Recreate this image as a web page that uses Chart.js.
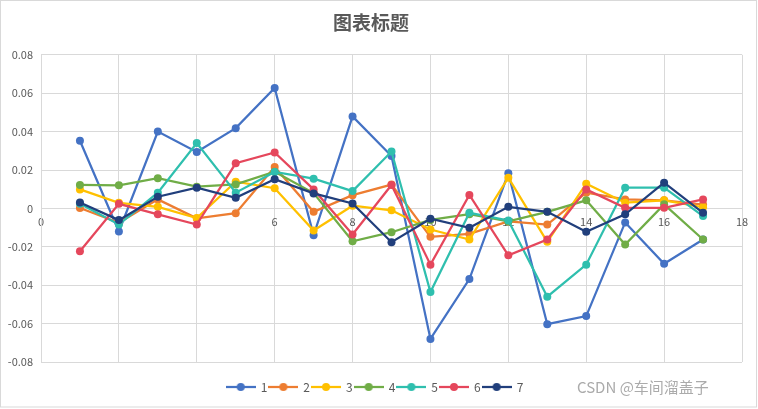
<!DOCTYPE html>
<html>
<head>
<meta charset="utf-8">
<script src="https://cdn.jsdelivr.net/npm/chart.js@4/dist/chart.umd.min.js"></script>
<style>
  html, body { margin: 0; padding: 0; background: #fff; }
  #wrap { position: relative; width: 758px; height: 409px; }
  #wm { position: absolute; left: 577px; top: 376px; font-family: "Noto Sans CJK SC", "DejaVu Sans", sans-serif; font-size: 15px; color: #ababab; white-space: nowrap; }
</style>
</head>
<body>
<div id="wrap">
  <canvas id="c" width="758" height="409"></canvas>
  <div id="wm">CSDN @车间溜盖子</div>
</div>
<script>
const titleText = "图表标题";
const xValues = [1, 2, 3, 4, 5, 6, 7, 8, 9, 10, 11, 12, 13, 14, 15, 16, 17];
const seriesNames = ["1", "2", "3", "4", "5", "6", "7"];
const seriesColors = ["#4472C4", "#ED7D31", "#FFC000", "#70AD47", "#2FBFAE", "#E5475C", "#213F7C"];
const s1 = [0.0352, -0.0120, 0.0400, 0.0294, 0.0418, 0.0627, -0.0140, 0.0479, 0.0273, -0.0680, -0.0368, 0.0183, -0.0603, -0.0561, -0.0073, -0.0288, -0.0162];
const s2 = [0.0002, -0.0075, 0.0047, -0.0052, -0.0025, 0.0216, -0.0018, 0.0069, 0.0124, -0.0148, -0.0133, -0.0068, -0.0084, 0.0082, 0.0047, 0.0042, 0.0020];
const s3 = [0.0099, 0.0029, 0.0008, -0.0050, 0.0139, 0.0105, -0.0115, 0.0014, -0.0010, -0.0110, -0.0162, 0.0160, -0.0174, 0.0129, 0.0030, 0.0042, 0.0006];
const s4 = [0.0122, 0.0120, 0.0157, 0.0113, 0.0125, 0.0191, 0.0080, -0.0171, -0.0124, -0.0060, -0.0030, -0.0068, -0.0018, 0.0042, -0.0188, 0.0021, -0.0162];
const s5 = [0.0024, -0.0084, 0.0082, 0.0340, 0.0082, 0.0190, 0.0155, 0.0090, 0.0296, -0.0436, -0.0023, -0.0063, -0.0460, -0.0293, 0.0108, 0.0108, -0.0040];
const s6 = [-0.0223, 0.0024, -0.0031, -0.0084, 0.0235, 0.0291, 0.0099, -0.0136, 0.0122, -0.0293, 0.0070, -0.0244, -0.0162, 0.0099, 0.0003, 0.0003, 0.0047];
const s7 = [0.0031, -0.0061, 0.0061, 0.0108, 0.0055, 0.0152, 0.0078, 0.0026, -0.0176, -0.0054, -0.0101, 0.0008, -0.0018, -0.0122, -0.0031, 0.0134, -0.0023];
const seriesValues = [s1, s2, s3, s4, s5, s6, s7];
const yMin = -0.08, yMax = 0.08, yStep = 0.02;
const xMin = 0, xMax = 18, xStep = 2;

const FONT = '"Noto Sans CJK SC", "DejaVu Sans", sans-serif';
const TXT = '#595959';
const GRID = '#D9D9D9';

function legendIcon(color) {
  const c = document.createElement('canvas');
  c.width = 30; c.height = 10;
  const g = c.getContext('2d');
  g.strokeStyle = color; g.lineWidth = 2.25;
  g.beginPath(); g.moveTo(0, 5); g.lineTo(30, 5); g.stroke();
  g.fillStyle = color;
  g.beginPath(); g.arc(15, 5, 4, 0, Math.PI * 2); g.fill();
  return c;
}

const datasets = seriesNames.map((name, i) => ({
  label: name,
  data: xValues.map((x, j) => ({ x: x, y: seriesValues[i][j] })),
  showLine: true,
  borderColor: seriesColors[i],
  backgroundColor: seriesColors[i],
  pointBackgroundColor: seriesColors[i],
  pointBorderColor: seriesColors[i],
  borderWidth: 2.25,
  pointRadius: 4,
  pointBorderWidth: 0,
  tension: 0,
  order: seriesNames.length - i,
  legendIcon: legendIcon(seriesColors[i])
}));

const frame = {
  id: 'frame',
  beforeDraw(chart) {
    const ctx = chart.ctx;
    ctx.save();
    ctx.fillStyle = '#fff';
    ctx.fillRect(0, 0, chart.width, chart.height);
    ctx.strokeStyle = GRID;
    ctx.lineWidth = 1;
    ctx.strokeRect(0.5, 0.5, 756, 406.5);
    ctx.restore();
  },
  afterLayout(chart) {
    const lg = chart.legend;
    if (lg) { lg.top += 17; lg.bottom += 17; lg.left += 4; lg.right += 4; }
  }
};

new Chart(document.getElementById('c'), {
  type: 'scatter',
  data: { datasets: datasets },
  plugins: [frame],
  options: {
    responsive: false,
    animation: false,
    devicePixelRatio: 1,
    layout: { padding: { left: 0, right: 16, top: 0, bottom: 23 } },
    plugins: {
      title: {
        display: true,
        text: titleText,
        color: TXT,
        font: { family: FONT, size: 19, weight: 'bold' },
        padding: { top: 11, bottom: 21 }
      },
      legend: {
        position: 'bottom',
        labels: {
          usePointStyle: true,
          pointStyleWidth: 28,
          padding: 2,
          color: TXT,
          font: { family: FONT, size: 12 },
          sort: (a, b) => a.datasetIndex - b.datasetIndex,
          generateLabels(chart) {
            return chart.data.datasets.map((ds, i) => ({
              text: ds.label,
              pointStyle: ds.legendIcon,
              fillStyle: ds.borderColor,
              strokeStyle: ds.borderColor,
              lineWidth: 0,
              fontColor: TXT,
              hidden: false,
              datasetIndex: i
            }));
          }
        }
      },
      tooltip: { enabled: false }
    },
    scales: {
      x: {
        type: 'linear',
        position: { y: 0 },
        min: xMin, max: xMax,
        grid: { color: GRID, lineWidth: 1, drawTicks: false },
        border: { color: GRID, width: 1 },
        ticks: {
          stepSize: xStep,
          color: TXT,
          padding: 7,
          font: { family: FONT, size: 11 }
        }
      },
      y: {
        type: 'linear',
        min: yMin, max: yMax,
        afterFit(scale) { scale.width = 41; },
        grid: { color: GRID, lineWidth: 1, drawTicks: false },
        border: { color: GRID, width: 1 },
        ticks: {
          stepSize: yStep,
          color: TXT,
          padding: 8,
          font: { family: FONT, size: 11 },
          callback: (v) => String(Number(Number(v).toFixed(2)))
        }
      }
    }
  }
});
</script>
</body>
</html>
